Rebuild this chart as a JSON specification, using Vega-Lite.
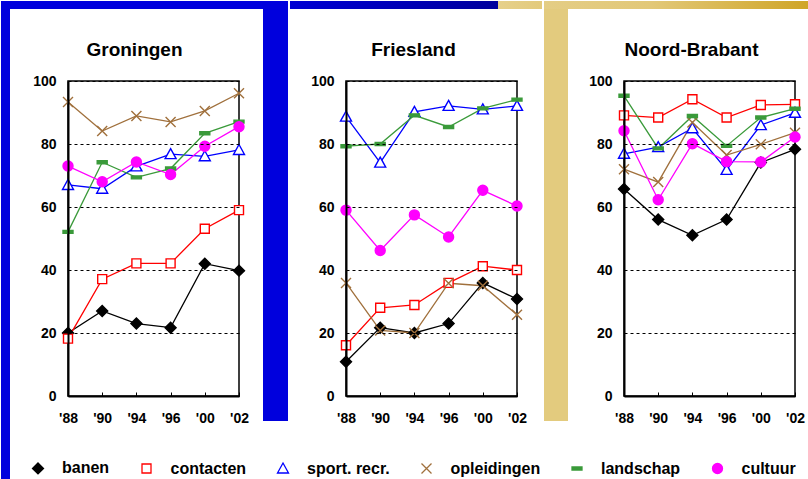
{
  "$schema": "https://vega.github.io/schema/vega-lite/v6.json",
  "background": "#FFFFFF",
  "padding": 0,
  "config": {
    "font": "Liberation Sans",
    "view": {"fill": "#FFFFFF", "stroke": "#000000", "strokeWidth": 1.5},
    "axis": {"labelFont": "Liberation Sans", "labelFontWeight": "bold", "labelFontSize": 14, "labelColor": "black", "zindex": 2, "domainColor": "black", "tickColor": "black", "titleColor": "black"}
  },
  "datasets": {
    "d": [
      {"region": "Groningen", "series": "banen", "marker": "banen", "year": "1988", "value": 20},
      {"region": "Groningen", "series": "banen", "marker": "banen", "year": "1990", "value": 27},
      {"region": "Groningen", "series": "banen", "marker": "banen", "year": "1994", "value": 23},
      {"region": "Groningen", "series": "banen", "marker": "banen", "year": "1996", "value": 21.7},
      {"region": "Groningen", "series": "banen", "marker": "banen", "year": "2000", "value": 42},
      {"region": "Groningen", "series": "banen", "marker": "banen", "year": "2002", "value": 39.8},
      {"region": "Groningen", "series": "contacten", "marker": "contacten", "year": "1988", "value": 18.2},
      {"region": "Groningen", "series": "contacten", "marker": "contacten", "year": "1990", "value": 37.1},
      {"region": "Groningen", "series": "contacten", "marker": "contacten", "year": "1994", "value": 42.1},
      {"region": "Groningen", "series": "contacten", "marker": "contacten", "year": "1996", "value": 42.1},
      {"region": "Groningen", "series": "contacten", "marker": "contacten", "year": "2000", "value": 53.1},
      {"region": "Groningen", "series": "contacten", "marker": "contacten", "year": "2002", "value": 59},
      {"region": "Groningen", "series": "sport. recr.", "marker": "sport. recr.", "year": "1988", "value": 67},
      {"region": "Groningen", "series": "sport. recr.", "marker": "sport. recr.", "year": "1990", "value": 65.8},
      {"region": "Groningen", "series": "sport. recr.", "marker": "sport. recr.", "year": "1994", "value": 72.9},
      {"region": "Groningen", "series": "sport. recr.", "marker": "sport. recr.", "year": "1996", "value": 76.8},
      {"region": "Groningen", "series": "sport. recr.", "marker": "sport. recr.", "year": "2000", "value": 76.1},
      {"region": "Groningen", "series": "sport. recr.", "marker": "sport. recr.", "year": "2002", "value": 78.1},
      {"region": "Groningen", "series": "opleidingen", "marker": "opleidingen", "year": "1988", "value": 93.3},
      {"region": "Groningen", "series": "opleidingen", "marker": "opleidingen", "year": "1990", "value": 84.1},
      {"region": "Groningen", "series": "opleidingen", "marker": "opleidingen", "year": "1994", "value": 88.9},
      {"region": "Groningen", "series": "opleidingen", "marker": "opleidingen", "year": "1996", "value": 87},
      {"region": "Groningen", "series": "opleidingen", "marker": "opleidingen", "year": "2000", "value": 90.5},
      {"region": "Groningen", "series": "opleidingen", "marker": "opleidingen", "year": "2002", "value": 96.1},
      {"region": "Groningen", "series": "landschap", "marker": "landschap", "year": "1988", "value": 52.1},
      {"region": "Groningen", "series": "landschap", "marker": "landschap", "year": "1990", "value": 74.2},
      {"region": "Groningen", "series": "landschap", "marker": "landschap", "year": "1994", "value": 69.4},
      {"region": "Groningen", "series": "landschap", "marker": "landschap", "year": "1996", "value": 72.2},
      {"region": "Groningen", "series": "landschap", "marker": "landschap", "year": "2000", "value": 83.4},
      {"region": "Groningen", "series": "landschap", "marker": "landschap", "year": "2002", "value": 87.1},
      {"region": "Groningen", "series": "cultuur", "marker": "cultuur", "year": "1988", "value": 73},
      {"region": "Groningen", "series": "cultuur", "marker": "cultuur", "year": "1990", "value": 68},
      {"region": "Groningen", "series": "cultuur", "marker": "cultuur", "year": "1994", "value": 74.3},
      {"region": "Groningen", "series": "cultuur", "marker": "cultuur", "year": "1996", "value": 70.3},
      {"region": "Groningen", "series": "cultuur", "marker": "cultuur", "year": "2000", "value": 79.3},
      {"region": "Groningen", "series": "cultuur", "marker": "cultuur", "year": "2002", "value": 85.5},
      {"region": "Friesland", "series": "banen", "marker": "banen", "year": "1988", "value": 10.9},
      {"region": "Friesland", "series": "banen", "marker": "banen", "year": "1990", "value": 21.7},
      {"region": "Friesland", "series": "banen", "marker": "banen", "year": "1994", "value": 20},
      {"region": "Friesland", "series": "banen", "marker": "banen", "year": "1996", "value": 23},
      {"region": "Friesland", "series": "banen", "marker": "banen", "year": "2000", "value": 35.9},
      {"region": "Friesland", "series": "banen", "marker": "banen", "year": "2002", "value": 30.8},
      {"region": "Friesland", "series": "contacten", "marker": "contacten", "year": "1988", "value": 16.1},
      {"region": "Friesland", "series": "contacten", "marker": "contacten", "year": "1990", "value": 28},
      {"region": "Friesland", "series": "contacten", "marker": "contacten", "year": "1994", "value": 28.9},
      {"region": "Friesland", "series": "contacten", "marker": "contacten", "year": "1996", "value": 35.9},
      {"region": "Friesland", "series": "contacten", "marker": "contacten", "year": "2000", "value": 41.2},
      {"region": "Friesland", "series": "contacten", "marker": "contacten", "year": "2002", "value": 40},
      {"region": "Friesland", "series": "sport. recr.", "marker": "sport. recr.", "year": "1988", "value": 88.7},
      {"region": "Friesland", "series": "sport. recr.", "marker": "sport. recr.", "year": "1990", "value": 74.1},
      {"region": "Friesland", "series": "sport. recr.", "marker": "sport. recr.", "year": "1994", "value": 90.2},
      {"region": "Friesland", "series": "sport. recr.", "marker": "sport. recr.", "year": "1996", "value": 92.1},
      {"region": "Friesland", "series": "sport. recr.", "marker": "sport. recr.", "year": "2000", "value": 91},
      {"region": "Friesland", "series": "sport. recr.", "marker": "sport. recr.", "year": "2002", "value": 92.1},
      {"region": "Friesland", "series": "opleidingen", "marker": "opleidingen", "year": "1988", "value": 35.9},
      {"region": "Friesland", "series": "opleidingen", "marker": "opleidingen", "year": "1990", "value": 20.8},
      {"region": "Friesland", "series": "opleidingen", "marker": "opleidingen", "year": "1994", "value": 20},
      {"region": "Friesland", "series": "opleidingen", "marker": "opleidingen", "year": "1996", "value": 35.8},
      {"region": "Friesland", "series": "opleidingen", "marker": "opleidingen", "year": "2000", "value": 35},
      {"region": "Friesland", "series": "opleidingen", "marker": "opleidingen", "year": "2002", "value": 25.8},
      {"region": "Friesland", "series": "landschap", "marker": "landschap", "year": "1988", "value": 79.3},
      {"region": "Friesland", "series": "landschap", "marker": "landschap", "year": "1990", "value": 80},
      {"region": "Friesland", "series": "landschap", "marker": "landschap", "year": "1994", "value": 89.1},
      {"region": "Friesland", "series": "landschap", "marker": "landschap", "year": "1996", "value": 85.4},
      {"region": "Friesland", "series": "landschap", "marker": "landschap", "year": "2000", "value": 91.3},
      {"region": "Friesland", "series": "landschap", "marker": "landschap", "year": "2002", "value": 94.1},
      {"region": "Friesland", "series": "cultuur", "marker": "cultuur", "year": "1988", "value": 59},
      {"region": "Friesland", "series": "cultuur", "marker": "cultuur", "year": "1990", "value": 46.2},
      {"region": "Friesland", "series": "cultuur", "marker": "cultuur", "year": "1994", "value": 57.5},
      {"region": "Friesland", "series": "cultuur", "marker": "cultuur", "year": "1996", "value": 50.5},
      {"region": "Friesland", "series": "cultuur", "marker": "cultuur", "year": "2000", "value": 65.3},
      {"region": "Friesland", "series": "cultuur", "marker": "cultuur", "year": "2002", "value": 60.3},
      {"region": "Noord-Brabant", "series": "banen", "marker": "banen", "year": "1988", "value": 65.7},
      {"region": "Noord-Brabant", "series": "banen", "marker": "banen", "year": "1990", "value": 56},
      {"region": "Noord-Brabant", "series": "banen", "marker": "banen", "year": "1994", "value": 51},
      {"region": "Noord-Brabant", "series": "banen", "marker": "banen", "year": "1996", "value": 56},
      {"region": "Noord-Brabant", "series": "banen", "marker": "banen", "year": "2000", "value": 74.1},
      {"region": "Noord-Brabant", "series": "banen", "marker": "banen", "year": "2002", "value": 78.3},
      {"region": "Noord-Brabant", "series": "contacten", "marker": "contacten", "year": "1988", "value": 89.1},
      {"region": "Noord-Brabant", "series": "contacten", "marker": "contacten", "year": "1990", "value": 88.4},
      {"region": "Noord-Brabant", "series": "contacten", "marker": "contacten", "year": "1994", "value": 94.2},
      {"region": "Noord-Brabant", "series": "contacten", "marker": "contacten", "year": "1996", "value": 88.4},
      {"region": "Noord-Brabant", "series": "contacten", "marker": "contacten", "year": "2000", "value": 92.4},
      {"region": "Noord-Brabant", "series": "contacten", "marker": "contacten", "year": "2002", "value": 92.6},
      {"region": "Noord-Brabant", "series": "sport. recr.", "marker": "sport. recr.", "year": "1988", "value": 76.9},
      {"region": "Noord-Brabant", "series": "sport. recr.", "marker": "sport. recr.", "year": "1990", "value": 79},
      {"region": "Noord-Brabant", "series": "sport. recr.", "marker": "sport. recr.", "year": "1994", "value": 85},
      {"region": "Noord-Brabant", "series": "sport. recr.", "marker": "sport. recr.", "year": "1996", "value": 71.8},
      {"region": "Noord-Brabant", "series": "sport. recr.", "marker": "sport. recr.", "year": "2000", "value": 86},
      {"region": "Noord-Brabant", "series": "sport. recr.", "marker": "sport. recr.", "year": "2002", "value": 89.9},
      {"region": "Noord-Brabant", "series": "opleidingen", "marker": "opleidingen", "year": "1988", "value": 72},
      {"region": "Noord-Brabant", "series": "opleidingen", "marker": "opleidingen", "year": "1990", "value": 67.9},
      {"region": "Noord-Brabant", "series": "opleidingen", "marker": "opleidingen", "year": "1994", "value": 86.8},
      {"region": "Noord-Brabant", "series": "opleidingen", "marker": "opleidingen", "year": "1996", "value": 76.5},
      {"region": "Noord-Brabant", "series": "opleidingen", "marker": "opleidingen", "year": "2000", "value": 79.9},
      {"region": "Noord-Brabant", "series": "opleidingen", "marker": "opleidingen", "year": "2002", "value": 83.6},
      {"region": "Noord-Brabant", "series": "landschap", "marker": "landschap", "year": "1988", "value": 95.3},
      {"region": "Noord-Brabant", "series": "landschap", "marker": "landschap", "year": "1990", "value": 78.6},
      {"region": "Noord-Brabant", "series": "landschap", "marker": "landschap", "year": "1994", "value": 88.9},
      {"region": "Noord-Brabant", "series": "landschap", "marker": "landschap", "year": "1996", "value": 79.4},
      {"region": "Noord-Brabant", "series": "landschap", "marker": "landschap", "year": "2000", "value": 88.4},
      {"region": "Noord-Brabant", "series": "landschap", "marker": "landschap", "year": "2002", "value": 91.2},
      {"region": "Noord-Brabant", "series": "cultuur", "marker": "cultuur", "year": "1988", "value": 84.2},
      {"region": "Noord-Brabant", "series": "cultuur", "marker": "cultuur", "year": "1990", "value": 62.3},
      {"region": "Noord-Brabant", "series": "cultuur", "marker": "cultuur", "year": "1994", "value": 80.1},
      {"region": "Noord-Brabant", "series": "cultuur", "marker": "cultuur", "year": "1996", "value": 74.4},
      {"region": "Noord-Brabant", "series": "cultuur", "marker": "cultuur", "year": "2000", "value": 74.3},
      {"region": "Noord-Brabant", "series": "cultuur", "marker": "cultuur", "year": "2002", "value": 82.2}
    ]
  },
  "spacing": 0,
  "hconcat": [
    {
      "width": 171, "height": 315,
      "resolve": {"scale": {"x": "independent", "y": "independent"}},
      "layer": [
        {
          "data": {"values": [{}]},
          "layer": [
            {"mark": {"type": "rect", "fill": "#0000DD"},
             "encoding": {
               "x": {"datum": -0.391813, "type": "quantitative", "scale": {"domain": [0, 1], "nice": false, "zero": false},
                     "axis": {"orient": "top", "zindex": 2, "labels": false, "ticks": false, "grid": false, "domain": false, "title": "Groningen", "titleFont": "Liberation Sans", "titleFontSize": 19, "titleFontWeight": "bold", "titlePadding": 26, "titleBaseline": "alphabetic", "titleX": 66}},
               "x2": {"datum": -0.339181},
               "y": {"datum": 1.253968, "type": "quantitative", "scale": {"domain": [0, 1], "nice": false, "zero": false}, "axis": null},
               "y2": {"datum": -0.266667}}},
            {"mark": {"type": "rect", "fill": "#0000DD"},
             "encoding": {
               "x": {"datum": -0.391813, "type": "quantitative", "scale": {"domain": [0, 1], "nice": false, "zero": false},
                     "axis": {"orient": "top", "zindex": 2, "labels": false, "ticks": false, "grid": false, "domain": false, "title": "Groningen", "titleFont": "Liberation Sans", "titleFontSize": 19, "titleFontWeight": "bold", "titlePadding": 26, "titleBaseline": "alphabetic", "titleX": 66}},
               "x2": {"datum": 1.28655},
               "y": {"datum": 1.253968, "type": "quantitative", "scale": {"domain": [0, 1], "nice": false, "zero": false}, "axis": null},
               "y2": {"datum": 1.228571}}},
            {"mark": {"type": "rect", "fill": "#0000DD"},
             "encoding": {
               "x": {"datum": 1.140351, "type": "quantitative", "scale": {"domain": [0, 1], "nice": false, "zero": false},
                     "axis": {"orient": "top", "zindex": 2, "labels": false, "ticks": false, "grid": false, "domain": false, "title": "Groningen", "titleFont": "Liberation Sans", "titleFontSize": 19, "titleFontWeight": "bold", "titlePadding": 26, "titleBaseline": "alphabetic", "titleX": 66}},
               "x2": {"datum": 1.28655},
               "y": {"datum": 1.253968, "type": "quantitative", "scale": {"domain": [0, 1], "nice": false, "zero": false}, "axis": null},
               "y2": {"datum": -0.079365}}}
          ]
        },
        {
          "data": {"name": "d"},
          "transform": [{"filter": "datum.region === 'Groningen'"}],
          "layer": [
            {"mark": {"type": "line", "strokeWidth": 1.3},
             "encoding": {
               "x": {"field": "year", "type": "ordinal", "scale": {"type": "point", "padding": 0},
                     "axis": {"orient": "bottom", "zindex": 2, "title": null, "labelAngle": 0, "tickSize": -4, "labelPadding": 19, "domainWidth": 2, "grid": false, "labelExpr": "\"'\" + substring(datum.label, 2)"}},
               "y": {"field": "value", "type": "quantitative", "scale": {"domain": [0, 100], "nice": false},
                     "axis": {"orient": "left", "zindex": 2, "title": null, "values": [0, 20, 40, 60, 80, 100], "ticks": false, "labelPadding": 12, "domainWidth": 2, "grid": true, "gridColor": "black", "gridDash": [3, 3], "gridWidth": 1}},
               "color": {"field": "series", "type": "nominal",
                         "scale": {"domain": ["banen", "contacten", "sport. recr.", "opleidingen", "landschap", "cultuur"], "range": ["#000000", "#FF0000", "#0000FF", "#A0703C", "#3A9A3A", "#FF00FF"]},
                         "legend": {"orient": "none", "legendX": -52, "legendY": 379, "direction": "horizontal", "columns": 6, "title": null,
                                    "symbolSize": 100, "symbolOffset": 14, "labelOffset": 16, "columnPadding": 14.5, "padding": 0,
                                    "labelFont": "Liberation Sans", "labelFontSize": 16, "labelFontWeight": "bold", "labelColor": "black", "symbolStrokeWidth": 1.3}}}},
            {"mark": {"type": "point", "size": 100, "strokeWidth": 1.4, "opacity": 1, "fillOpacity": 1},
             "encoding": {
               "x": {"field": "year", "type": "ordinal"},
               "y": {"field": "value", "type": "quantitative"},
               "shape": {"field": "marker", "type": "nominal", "legend": null,
                         "scale": {"domain": ["banen", "contacten", "sport. recr.", "opleidingen", "landschap", "cultuur"], "range": ["M0,-1.1L1.1,0L0,1.1L-1.1,0Z", "M-0.9,-0.9H0.9V0.9H-0.9Z", "M0,-1.1L1.1,0.9L-1.1,0.9Z", "M-1,-1L1,1M-1,1L1,-1", "M-1,-0.3H1V0.3H-1Z", "M-1,0A1,1 0 1,0 1,0A1,1 0 1,0 -1,0Z"]}},
               "stroke": {"field": "marker", "type": "nominal", "legend": null,
                          "scale": {"domain": ["banen", "contacten", "sport. recr.", "opleidingen", "landschap", "cultuur"], "range": ["#000000", "#FF0000", "#0000FF", "#A0703C", "#3A9A3A", "#FF00FF"]}},
               "fill": {"field": "marker", "type": "nominal", "legend": null,
                        "scale": {"domain": ["banen", "contacten", "sport. recr.", "opleidingen", "landschap", "cultuur"], "range": ["#000000", "#FFFFFF", "#FFFFFF", "transparent", "#3A9A3A", "#FF00FF"]}}}}
          ]
        }
      ]
    },
    {
      "width": 171, "height": 315,
      "resolve": {"scale": {"x": "independent", "y": "independent"}},
      "layer": [
        {
          "data": {"values": [{}]},
          "layer": [
            {"mark": {"type": "rect", "fill": {"gradient": "linear", "stops": [{"offset": 0, "color": "#0000D4"}, {"offset": 0.825, "color": "#00009C"}, {"offset": 0.826, "color": "#E6D08A"}, {"offset": 1, "color": "#E3CA7C"}]}},
             "encoding": {
               "x": {"datum": -0.327485, "type": "quantitative", "scale": {"domain": [0, 1], "nice": false, "zero": false},
                     "axis": {"orient": "top", "zindex": 2, "labels": false, "ticks": false, "grid": false, "domain": false, "title": "Friesland", "titleFont": "Liberation Sans", "titleFontSize": 19, "titleFontWeight": "bold", "titlePadding": 26, "titleBaseline": "alphabetic", "titleX": 67}},
               "x2": {"datum": 1.146199},
               "y": {"datum": 1.253968, "type": "quantitative", "scale": {"domain": [0, 1], "nice": false, "zero": false}, "axis": null},
               "y2": {"datum": 1.228571}}}
          ]
        },
        {
          "data": {"name": "d"},
          "transform": [{"filter": "datum.region === 'Friesland'"}],
          "layer": [
            {"mark": {"type": "line", "strokeWidth": 1.3},
             "encoding": {
               "x": {"field": "year", "type": "ordinal", "scale": {"type": "point", "padding": 0},
                     "axis": {"orient": "bottom", "zindex": 2, "title": null, "labelAngle": 0, "tickSize": -4, "labelPadding": 19, "domainWidth": 2, "grid": false, "labelExpr": "\"'\" + substring(datum.label, 2)"}},
               "y": {"field": "value", "type": "quantitative", "scale": {"domain": [0, 100], "nice": false},
                     "axis": {"orient": "left", "zindex": 2, "title": null, "values": [0, 20, 40, 60, 80, 100], "ticks": false, "labelPadding": 12, "domainWidth": 2, "grid": true, "gridColor": "black", "gridDash": [3, 3], "gridWidth": 1}},
               "color": {"field": "series", "type": "nominal", "legend": null,
                         "scale": {"domain": ["banen", "contacten", "sport. recr.", "opleidingen", "landschap", "cultuur"], "range": ["#000000", "#FF0000", "#0000FF", "#A0703C", "#3A9A3A", "#FF00FF"]}}}},
            {"mark": {"type": "point", "size": 100, "strokeWidth": 1.4, "opacity": 1, "fillOpacity": 1},
             "encoding": {
               "x": {"field": "year", "type": "ordinal"},
               "y": {"field": "value", "type": "quantitative"},
               "shape": {"field": "marker", "type": "nominal", "legend": null,
                         "scale": {"domain": ["banen", "contacten", "sport. recr.", "opleidingen", "landschap", "cultuur"], "range": ["M0,-1.1L1.1,0L0,1.1L-1.1,0Z", "M-0.9,-0.9H0.9V0.9H-0.9Z", "M0,-1.1L1.1,0.9L-1.1,0.9Z", "M-1,-1L1,1M-1,1L1,-1", "M-1,-0.3H1V0.3H-1Z", "M-1,0A1,1 0 1,0 1,0A1,1 0 1,0 -1,0Z"]}},
               "stroke": {"field": "marker", "type": "nominal", "legend": null,
                          "scale": {"domain": ["banen", "contacten", "sport. recr.", "opleidingen", "landschap", "cultuur"], "range": ["#000000", "#FF0000", "#0000FF", "#A0703C", "#3A9A3A", "#FF00FF"]}},
               "fill": {"field": "marker", "type": "nominal", "legend": null,
                        "scale": {"domain": ["banen", "contacten", "sport. recr.", "opleidingen", "landschap", "cultuur"], "range": ["#000000", "#FFFFFF", "#FFFFFF", "transparent", "#3A9A3A", "#FF00FF"]}}}}
          ]
        }
      ]
    },
    {
      "width": 171, "height": 315,
      "resolve": {"scale": {"x": "independent", "y": "independent"}},
      "layer": [
        {
          "data": {"values": [{}]},
          "layer": [
            {"mark": {"type": "rect", "fill": "#E3CB7E"},
             "encoding": {
               "x": {"datum": -0.467836, "type": "quantitative", "scale": {"domain": [0, 1], "nice": false, "zero": false},
                     "axis": {"orient": "top", "zindex": 2, "labels": false, "ticks": false, "grid": false, "domain": false, "title": "Noord-Brabant", "titleFont": "Liberation Sans", "titleFontSize": 19, "titleFontWeight": "bold", "titlePadding": 26, "titleBaseline": "alphabetic", "titleX": 67}},
               "x2": {"datum": -0.327485},
               "y": {"datum": 1.253968, "type": "quantitative", "scale": {"domain": [0, 1], "nice": false, "zero": false}, "axis": null},
               "y2": {"datum": -0.079365}}},
            {"mark": {"type": "rect", "fill": {"gradient": "linear", "stops": [{"offset": 0, "color": "#E4CD85"}, {"offset": 0.4, "color": "#E2C878"}, {"offset": 1, "color": "#CFA424"}]}},
             "encoding": {
               "x": {"datum": -0.467836, "type": "quantitative", "scale": {"domain": [0, 1], "nice": false, "zero": false},
                     "axis": {"orient": "top", "zindex": 2, "labels": false, "ticks": false, "grid": false, "domain": false, "title": "Noord-Brabant", "titleFont": "Liberation Sans", "titleFontSize": 19, "titleFontWeight": "bold", "titlePadding": 26, "titleBaseline": "alphabetic", "titleX": 67}},
               "x2": {"datum": 1.105263},
               "y": {"datum": 1.253968, "type": "quantitative", "scale": {"domain": [0, 1], "nice": false, "zero": false}, "axis": null},
               "y2": {"datum": 1.228571}}}
          ]
        },
        {
          "data": {"name": "d"},
          "transform": [{"filter": "datum.region === 'Noord-Brabant'"}],
          "layer": [
            {"mark": {"type": "line", "strokeWidth": 1.3},
             "encoding": {
               "x": {"field": "year", "type": "ordinal", "scale": {"type": "point", "padding": 0},
                     "axis": {"orient": "bottom", "zindex": 2, "title": null, "labelAngle": 0, "tickSize": -4, "labelPadding": 19, "domainWidth": 2, "grid": false, "labelExpr": "\"'\" + substring(datum.label, 2)"}},
               "y": {"field": "value", "type": "quantitative", "scale": {"domain": [0, 100], "nice": false},
                     "axis": {"orient": "left", "zindex": 2, "title": null, "values": [0, 20, 40, 60, 80, 100], "ticks": false, "labelPadding": 12, "domainWidth": 2, "grid": true, "gridColor": "black", "gridDash": [3, 3], "gridWidth": 1}},
               "color": {"field": "series", "type": "nominal", "legend": null,
                         "scale": {"domain": ["banen", "contacten", "sport. recr.", "opleidingen", "landschap", "cultuur"], "range": ["#000000", "#FF0000", "#0000FF", "#A0703C", "#3A9A3A", "#FF00FF"]}}}},
            {"mark": {"type": "point", "size": 100, "strokeWidth": 1.4, "opacity": 1, "fillOpacity": 1},
             "encoding": {
               "x": {"field": "year", "type": "ordinal"},
               "y": {"field": "value", "type": "quantitative"},
               "shape": {"field": "marker", "type": "nominal", "legend": null,
                         "scale": {"domain": ["banen", "contacten", "sport. recr.", "opleidingen", "landschap", "cultuur"], "range": ["M0,-1.1L1.1,0L0,1.1L-1.1,0Z", "M-0.9,-0.9H0.9V0.9H-0.9Z", "M0,-1.1L1.1,0.9L-1.1,0.9Z", "M-1,-1L1,1M-1,1L1,-1", "M-1,-0.3H1V0.3H-1Z", "M-1,0A1,1 0 1,0 1,0A1,1 0 1,0 -1,0Z"]}},
               "stroke": {"field": "marker", "type": "nominal", "legend": null,
                          "scale": {"domain": ["banen", "contacten", "sport. recr.", "opleidingen", "landschap", "cultuur"], "range": ["#000000", "#FF0000", "#0000FF", "#A0703C", "#3A9A3A", "#FF00FF"]}},
               "fill": {"field": "marker", "type": "nominal", "legend": null,
                        "scale": {"domain": ["banen", "contacten", "sport. recr.", "opleidingen", "landschap", "cultuur"], "range": ["#000000", "#FFFFFF", "#FFFFFF", "transparent", "#3A9A3A", "#FF00FF"]}}}}
          ]
        }
      ]
    }
  ]
}
